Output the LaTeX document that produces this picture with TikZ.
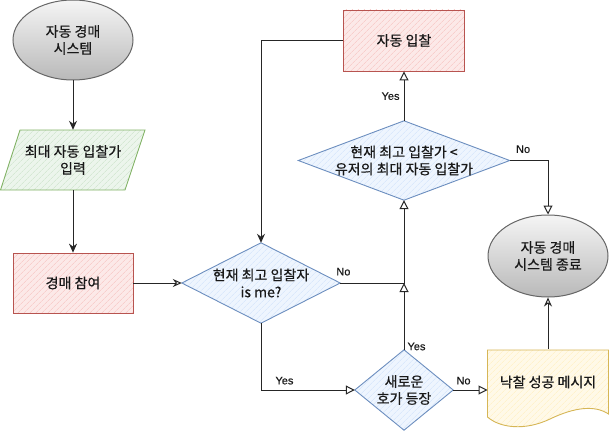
\documentclass[tikz,border=0pt]{standalone}
\usepackage{fontspec}
\setmainfont{Noto Sans CJK KR}[BoldFont={Noto Sans CJK KR}, BoldFeatures={FakeBold=0.6}]
\newfontfamily\labfont{Liberation Sans}[BoldFont={Liberation Sans}, BoldFeatures={FakeBold=0.5}]
\usetikzlibrary{shapes.geometric,arrows.meta,patterns.meta,backgrounds}
\definecolor{gborder}{HTML}{82B366}
\definecolor{gfill}{HTML}{D5E8D4}
\definecolor{rborder}{HTML}{B85450}
\definecolor{rfill}{HTML}{F8CECC}
\definecolor{bborder}{HTML}{6C8EBF}
\definecolor{bfill}{HTML}{DAE8FC}
\definecolor{yborder}{HTML}{D6B656}
\definecolor{yfill}{HTML}{FFF2CC}
\tikzset{
  base/.style={font=\fontsize{14}{17}\selectfont\bfseries, align=center, text=black!90, inner sep=0pt},
  hatch/.style 2 args={draw=#1, line width=0.9pt, preaction={fill=#2!45},
    pattern={Lines[angle=45,distance=4pt,line width=0.7pt]}, pattern color=#2},
  term/.style={base, ellipse, draw=black!60, line width=1pt, top color=gray!8, bottom color=gray!55,
    minimum width=120pt, minimum height=80pt},
  proc/.style={base, rectangle, minimum width=120pt, minimum height=60pt, hatch={rborder}{rfill}},
  txtbox/.style={base, rectangle, draw=none},
  edge/.style={line width=1pt, draw=black!85},
  blk/.style={edge, -{Stealth[length=9pt,width=8pt]}},
  opa/.style={edge, -{Triangle[open,length=9pt,width=9pt]}},
  opn/.style={edge, -{Stealth[open,length=9pt,width=8pt]}},
  lbl/.style={font=\labfont\fontsize{11}{13}\selectfont\bfseries, text=black!90, inner sep=1pt},
}
\begin{document}
\begin{tikzpicture}[x=1pt,y=-1pt]
\useasboundingbox (0,0) rectangle (609,433);
% nodes
\node[term] (start) at (73,40) {자동 경매\\시스템};
\node[txtbox, minimum width=125pt, minimum height=60pt] (inp) at (73,160) {최대 자동 입찰가\\입력};
\node[proc] (join) at (73,283) {경매 참여};
\node[txtbox, minimum width=158pt, minimum height=80pt] (me) at (261,283) {현재 최고 입찰자\\is me?};
\node[proc, minimum width=121pt, minimum height=61pt] (bid) at (404,40.5) {자동 입찰};
\node[txtbox, minimum width=211pt, minimum height=79pt] (dd) at (404,160.5) {현재 최고 입찰가 <\\유저의 최대 자동 입찰가};
\node[term, minimum height=82pt] (fin) at (548,256) {자동 경매\\시스템 종료};
\node[txtbox, minimum width=98pt, minimum height=80pt] (d3) at (404,390) {새로운\\호가 등장};
\node[txtbox, minimum width=121pt, minimum height=66pt] (msg) at (548,382) {낙찰 성공 메시지};
% shapes behind text
\begin{pgfonlayer}{background}
\path[hatch={gborder}{gfill}] (20,130) -- (145,130) -- (125,190) -- (0.5,190) -- cycle;
\path[hatch={bborder}{bfill}] (me.north) -- (me.east) -- (me.south) -- (me.west) -- cycle;
\path[hatch={bborder}{bfill}] (dd.north) -- (dd.east) -- (dd.south) -- (dd.west) -- cycle;
\path[hatch={bborder}{bfill}] (d3.north) -- (d3.east) -- (d3.south) -- (d3.west) -- cycle;
\path[hatch={yborder}{yfill}] (487.5,350) -- (608.5,350) -- (608.5,414)
  .. controls (595,405) and (575,407) .. (550,419)
  .. controls (525,431) and (500,428) .. (487.5,417) -- cycle;
\end{pgfonlayer}
% connectors
\draw[blk] (start.south) -- (start.south |- inp.north);
\draw[blk] (inp.south) -- (inp.south |- join.north);
\draw[opn] (join.east) -- (me.west);
\draw[blk] (bid.west) -- (me.north |- bid.west) -- (me.north);
\draw[opa] (me.south) -- (me.south |- d3.west) -- (d3.west)
  node[lbl, pos=0.25, above=4pt] {Yes};
\draw[opa] (d3.east) -- (d3.east -| fin.west)
  node[lbl, pos=0.3, above=4pt] {No};
\draw[opa] (d3.north) -- (d3.north |- me.east)
  node[lbl, pos=0.05, anchor=west, xshift=2pt] {Yes};
\draw[opa] (me.east) -- (d3.north |- me.east)
  node[lbl, pos=0.05, above=6pt] {No}
  -- (dd.south);
\draw[opa] (dd.north) -- (bid.south) node[lbl, midway, left=3pt] {Yes};
\draw[opa] (dd.east) -- (dd.east -| fin.north)
  node[lbl, pos=0.35, above=6pt] {No}
  -- (fin.north);
\draw[opn] (msg.north) -- (fin.south);
\end{tikzpicture}
\end{document}
